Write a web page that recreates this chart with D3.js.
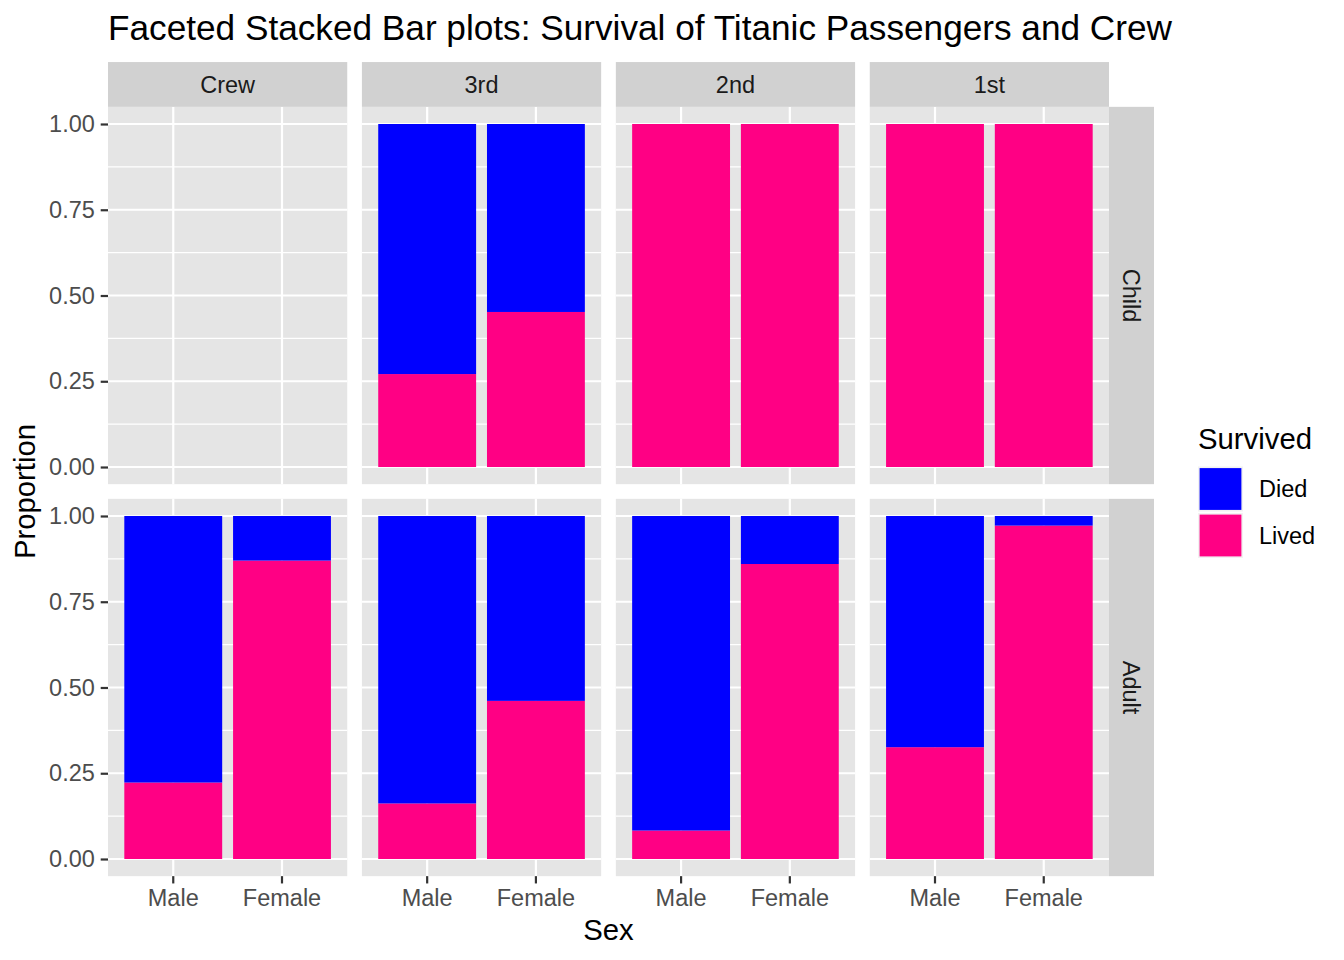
<!DOCTYPE html>
<html>
<head>
<meta charset="utf-8">
<script src="https://cdn.jsdelivr.net/npm/d3@7"></script>
<style>
  body { margin: 0; background: #fff; }
  text { font-family: "Liberation Sans", Arial, Helvetica, sans-serif; }
</style>
</head>
<body>
<svg id="chart"></svg>
<script>
// data: proportion that lived, by age row, class column, sex
var classes = ["Crew", "3rd", "2nd", "1st"],
    ages = ["Child", "Adult"],
    sexes = ["Male", "Female"],
    outcomes = ["Died", "Lived"],
    // one entry per class, [male, female]; null = no passengers
    livedChild = [null, [0.271, 0.452], [1.0, 1.0], [1.0, 1.0]],
    livedAdult = [[0.223, 0.870], [0.162, 0.461], [0.083, 0.860], [0.326, 0.972]],
    yTicks = [0, 0.25, 0.5, 0.75, 1];

var colors = { Died: "#0000FF", Lived: "#FF0084" };

var W = 1344, H = 960,
    pLeft = 108, pRight = 1109, pTop = 106.85, pBottom = 876.15,
    gap = 14.67, stripW = 45, stripH = 44.8;

var svg = d3.select("#chart").attr("width", W).attr("height", H);

// facet scales
var colPad = gap / ((pRight - pLeft + gap) / classes.length);
var colX = d3.scaleBand().domain(classes).range([pLeft, pRight]).paddingInner(colPad);
var rowPad = gap / ((pBottom - pTop + gap) / ages.length);
var rowY = d3.scaleBand().domain(ages).range([pTop, pBottom]).paddingInner(rowPad);

var pw = colX.bandwidth(), ph = rowY.bandwidth();

// within-panel scales
var x = d3.scaleBand().domain(sexes).range([0, pw]).paddingInner(0.1).paddingOuter(0.15);
var y = d3.scaleLinear().domain([-0.05, 1.05]).range([ph, 0]);

var rows = { Child: livedChild, Adult: livedAdult };
var minorTicks = [0.125, 0.375, 0.625, 0.875];

ages.forEach(function(age) {
    classes.forEach(function(cls, ci) {
        var g = svg.append("g")
            .attr("transform", "translate(" + colX(cls) + "," + rowY(age) + ")");

        g.append("rect").attr("width", pw).attr("height", ph).attr("fill", "#E5E5E5");

        g.selectAll(".minor").data(minorTicks).enter().append("line")
            .attr("x1", 0).attr("x2", pw)
            .attr("y1", function(d) { return y(d); }).attr("y2", function(d) { return y(d); })
            .attr("stroke", "#fff").attr("stroke-width", 1.1);
        g.selectAll(".major").data(yTicks).enter().append("line")
            .attr("x1", 0).attr("x2", pw)
            .attr("y1", function(d) { return y(d); }).attr("y2", function(d) { return y(d); })
            .attr("stroke", "#fff").attr("stroke-width", 2.2);
        g.selectAll(".vmajor").data(sexes).enter().append("line")
            .attr("x1", function(d) { return x(d) + x.bandwidth() / 2; })
            .attr("x2", function(d) { return x(d) + x.bandwidth() / 2; })
            .attr("y1", 0).attr("y2", ph)
            .attr("stroke", "#fff").attr("stroke-width", 2.2);

        var vals = rows[age][ci];
        if (vals) {
            var segs = [];
            sexes.forEach(function(s, si) {
                var lived = vals[si];
                segs.push({ sex: s, outcome: "Lived", y0: 0, y1: lived });
                segs.push({ sex: s, outcome: "Died", y0: lived, y1: 1 });
            });
            g.selectAll(".bar").data(segs.filter(function(d) { return d.y1 > d.y0; }))
                .enter().append("rect")
                .attr("x", function(d) { return x(d.sex); })
                .attr("width", x.bandwidth())
                .attr("y", function(d) { return y(d.y1); })
                .attr("height", function(d) { return y(d.y0) - y(d.y1); })
                .attr("fill", function(d) { return colors[d.outcome]; });
        }

        if (ci === 0) {
            var ax = g.append("g")
                .call(d3.axisLeft(y).tickValues(yTicks).tickFormat(d3.format(".2f"))
                    .tickSize(7.3).tickPadding(5.9));
            styleAxis(ax);
        }
        if (age === "Adult") {
            var bx = g.append("g").attr("transform", "translate(0," + ph + ")")
                .call(d3.axisBottom(x).tickSize(7.3).tickPadding(5.9));
            styleAxis(bx);
        }
    });

    // right strip
    var sy = rowY(age);
    svg.append("rect").attr("x", pRight).attr("y", sy).attr("width", stripW).attr("height", ph)
        .attr("fill", "#D1D1D1");
    svg.append("text")
        .attr("transform", "translate(" + (pRight + stripW / 2) + "," + (sy + ph / 2) + ") rotate(90)")
        .attr("text-anchor", "middle").attr("dy", "0.35em")
        .attr("font-size", 23.5).attr("fill", "#1A1A1A").text(age);
});

// top strips
classes.forEach(function(cls) {
    svg.append("rect").attr("x", colX(cls)).attr("y", pTop - stripH)
        .attr("width", pw).attr("height", stripH).attr("fill", "#D1D1D1");
    svg.append("text").attr("x", colX(cls) + pw / 2).attr("y", pTop - stripH / 2)
        .attr("dy", "0.35em").attr("text-anchor", "middle")
        .attr("font-size", 23.5).attr("fill", "#1A1A1A").text(cls);
});

function styleAxis(a) {
    a.select(".domain").remove();
    a.selectAll(".tick line").attr("stroke", "#333333").attr("stroke-width", 2.2);
    a.selectAll(".tick text").attr("fill", "#4D4D4D").attr("font-size", 23.5)
        .attr("font-family", "Liberation Sans, Arial, sans-serif");
}

// titles
svg.append("text").attr("x", pLeft).attr("y", 40).attr("font-size", 35.2)
    .attr("fill", "#000").text("Faceted Stacked Bar plots: Survival of Titanic Passengers and Crew");
svg.append("text").attr("x", (pLeft + pRight) / 2).attr("y", 940).attr("text-anchor", "middle")
    .attr("font-size", 29.3).attr("fill", "#000").text("Sex");
svg.append("text")
    .attr("transform", "translate(35," + ((pTop + pBottom) / 2) + ") rotate(-90)")
    .attr("text-anchor", "middle").attr("font-size", 29.3).attr("fill", "#000").text("Proportion");

// legend
var lg = svg.append("g").attr("transform", "translate(1198,0)");
lg.append("text").attr("x", 0).attr("y", 449).attr("font-size", 29.3).attr("fill", "#000").text("Survived");
var keys = lg.selectAll(".key").data(outcomes).enter().append("g")
    .attr("transform", function(d, i) { return "translate(0," + (466.5 + i * 46.5) + ")"; });
keys.append("rect").attr("width", 45).attr("height", 45).attr("fill", "#F2F2F2");
keys.append("rect").attr("x", 1.6).attr("y", 1.6).attr("width", 41.8).attr("height", 41.8)
    .attr("fill", function(d) { return colors[d]; });
keys.append("text").attr("x", 61).attr("y", 22.5).attr("dy", "0.35em")
    .attr("font-size", 23.5).attr("fill", "#000").text(function(d) { return d; });
</script>
</body>
</html>
